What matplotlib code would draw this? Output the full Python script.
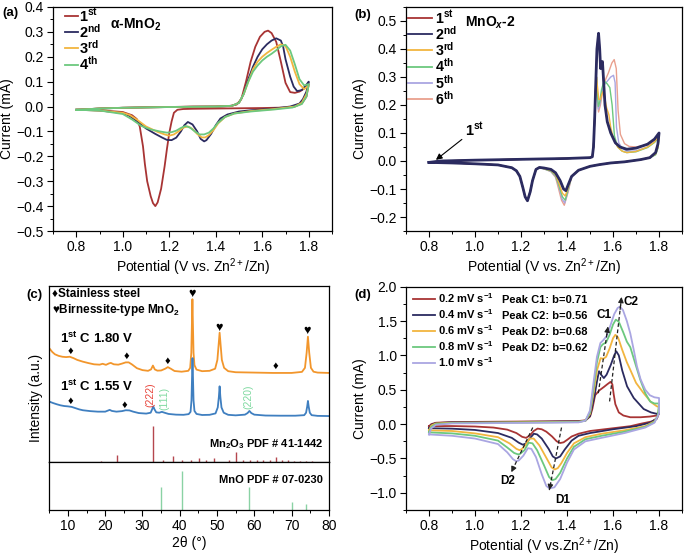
import numpy as np
import matplotlib
matplotlib.use("Agg")
import matplotlib.pyplot as plt
from matplotlib.ticker import MultipleLocator

plt.rcParams.update({
    "font.family": ["Liberation Sans", "DejaVu Sans"],
    "font.size": 10,
    "mathtext.fontset": "custom",
    "mathtext.rm": "Liberation Sans",
    "mathtext.it": "Liberation Sans:italic",
    "mathtext.bf": "Liberation Sans:bold",
    "mathtext.bfit": "Liberation Sans:italic:bold",
    "axes.linewidth": 0.9,
    "xtick.direction": "out",
    "ytick.direction": "out",
    "xtick.major.size": 4,
    "ytick.major.size": 4,
    "xtick.minor.size": 2.2,
    "ytick.minor.size": 2.2,
    "xtick.major.width": 0.8,
    "ytick.major.width": 0.8,
    "xtick.minor.width": 0.7,
    "ytick.minor.width": 0.7,
    "xtick.major.pad": 2.5,
    "ytick.major.pad": 2.5,
})

# ---------------------------------------------------------------- data (a)
a_labels = [r"1$^{\mathbf{st}}$", r"2$^{\mathbf{nd}}$", r"3$^{\mathbf{rd}}$", r"4$^{\mathbf{th}}$"]
a_cycle1 = [(0.80, -0.013), (0.90, -0.008), (1.00, -0.005), (1.10, -0.003), (1.20, -0.002),
            (1.30, 0.000), (1.40, 0.000), (1.46, 0.002), (1.49, 0.008), (1.51, 0.030),
            (1.53, 0.100), (1.55, 0.180), (1.57, 0.240), (1.59, 0.280), (1.61, 0.300),
            (1.625, 0.305), (1.64, 0.295), (1.66, 0.260), (1.68, 0.180), (1.70, 0.095),
            (1.72, 0.058), (1.74, 0.055), (1.76, 0.060), (1.78, 0.072), (1.80, 0.090),
            (1.79, 0.040), (1.77, 0.012), (1.74, 0.000), (1.70, -0.004), (1.60, -0.006),
            (1.50, -0.007), (1.40, -0.008), (1.30, -0.009), (1.26, -0.010), (1.235, -0.013),
            (1.22, -0.025), (1.21, -0.060), (1.20, -0.106), (1.19, -0.170), (1.18, -0.240),
            (1.165, -0.330), (1.15, -0.385), (1.14, -0.400), (1.13, -0.388), (1.12, -0.360),
            (1.105, -0.300), (1.095, -0.230), (1.087, -0.160), (1.073, -0.080), (1.06, -0.050),
            (1.04, -0.035), (1.00, -0.022), (0.90, -0.015), (0.80, -0.013)]
a_cycle2 = [(0.80, -0.013), (0.90, -0.008), (1.00, -0.005), (1.20, -0.002), (1.40, 0.000),
            (1.47, 0.003), (1.50, 0.015), (1.52, 0.050), (1.54, 0.110), (1.56, 0.160),
            (1.58, 0.200), (1.60, 0.230), (1.62, 0.250), (1.64, 0.265), (1.66, 0.274),
            (1.68, 0.265), (1.69, 0.240), (1.70, 0.190), (1.72, 0.120), (1.735, 0.080),
            (1.75, 0.062), (1.77, 0.066), (1.79, 0.088), (1.80, 0.100),
            (1.79, 0.060), (1.775, 0.030), (1.76, 0.012), (1.72, 0.000), (1.65, -0.008),
            (1.55, -0.015), (1.50, -0.020), (1.45, -0.032), (1.42, -0.048), (1.40, -0.075),
            (1.38, -0.110), (1.36, -0.135), (1.35, -0.140), (1.335, -0.130), (1.32, -0.100),
            (1.30, -0.072), (1.28, -0.062), (1.265, -0.075), (1.25, -0.100), (1.23, -0.125),
            (1.21, -0.135), (1.19, -0.134), (1.17, -0.125), (1.14, -0.110), (1.10, -0.088),
            (1.06, -0.058), (1.03, -0.038), (1.00, -0.026), (0.90, -0.016), (0.80, -0.013)]
a_cycle3 = [(0.80, -0.013), (0.90, -0.008), (1.00, -0.005), (1.20, -0.002), (1.40, 0.000),
            (1.47, 0.003), (1.50, 0.015), (1.52, 0.050), (1.54, 0.100), (1.56, 0.150),
            (1.58, 0.180), (1.60, 0.200), (1.62, 0.215), (1.64, 0.228), (1.66, 0.240),
            (1.68, 0.250), (1.70, 0.243), (1.72, 0.200), (1.74, 0.140), (1.76, 0.090),
            (1.78, 0.070), (1.80, 0.085),
            (1.79, 0.050), (1.77, 0.015), (1.74, 0.000), (1.65, -0.010), (1.55, -0.018),
            (1.48, -0.028), (1.44, -0.042), (1.41, -0.068), (1.39, -0.095), (1.37, -0.115),
            (1.355, -0.124), (1.34, -0.124), (1.32, -0.110), (1.30, -0.090), (1.28, -0.080),
            (1.26, -0.085), (1.24, -0.100), (1.22, -0.112), (1.20, -0.117), (1.18, -0.112),
            (1.15, -0.102), (1.10, -0.080), (1.06, -0.052), (1.03, -0.034), (1.00, -0.025),
            (0.90, -0.016), (0.80, -0.013)]
a_cycle4 = [(0.80, -0.013), (0.90, -0.008), (1.00, -0.005), (1.20, -0.002), (1.40, 0.000),
            (1.47, 0.003), (1.50, 0.015), (1.52, 0.050), (1.54, 0.100), (1.56, 0.140),
            (1.58, 0.165), (1.60, 0.185), (1.62, 0.200), (1.64, 0.212), (1.66, 0.226),
            (1.68, 0.242), (1.70, 0.248), (1.72, 0.225), (1.74, 0.170), (1.76, 0.110),
            (1.78, 0.085), (1.80, 0.090),
            (1.79, 0.040), (1.77, 0.010), (1.73, -0.004), (1.65, -0.012), (1.55, -0.020),
            (1.48, -0.028), (1.44, -0.042), (1.41, -0.065), (1.39, -0.088), (1.37, -0.105),
            (1.35, -0.112), (1.33, -0.112), (1.31, -0.100), (1.29, -0.085), (1.27, -0.078),
            (1.25, -0.086), (1.23, -0.097), (1.21, -0.103), (1.19, -0.105), (1.16, -0.100),
            (1.12, -0.092), (1.08, -0.078), (1.04, -0.052), (1.00, -0.030), (0.90, -0.016),
            (0.80, -0.013)]

# ---------------------------------------------------------------- data (b)
b_labels = [r"1$^{\mathbf{st}}$", r"2$^{\mathbf{nd}}$", r"3$^{\mathbf{rd}}$",
            r"4$^{\mathbf{th}}$", r"5$^{\mathbf{th}}$", r"6$^{\mathbf{th}}$"]
b_base = [(0.80, -0.005), (0.85, 0.000), (1.00, 0.003), (1.20, 0.006), (1.40, 0.009),
          (1.50, 0.012), (1.51, 0.015)]
b_return = [(1.76, 0.012), (1.72, 0.005), (1.65, -0.003), (1.59, -0.007), (1.54, -0.013),
            (1.50, -0.019), (1.45, -0.033), (1.42, -0.055)]
b_tail = [(1.28, -0.023), (1.265, -0.030), (1.25, -0.070), (1.24, -0.110), (1.228, -0.142),
          (1.218, -0.128), (1.208, -0.095), (1.195, -0.055), (1.18, -0.035), (1.16, -0.024),
          (1.10, -0.014), (1.00, -0.010), (0.90, -0.007), (0.80, -0.005)]
b_cycle2_up = [(1.515, 0.050), (1.52, 0.150), (1.525, 0.280), (1.53, 0.400), (1.537, 0.456),
               (1.542, 0.400), (1.546, 0.330), (1.55, 0.350), (1.554, 0.355), (1.558, 0.300),
               (1.565, 0.200), (1.575, 0.140), (1.59, 0.100), (1.61, 0.065), (1.63, 0.050),
               (1.66, 0.042), (1.70, 0.046), (1.75, 0.060), (1.78, 0.078), (1.80, 0.100),
               (1.795, 0.060), (1.785, 0.030)]
b_cycle2_dn = [(1.405, -0.085), (1.395, -0.106), (1.385, -0.100), (1.37, -0.070),
               (1.35, -0.042), (1.33, -0.030), (1.30, -0.025)]
b_cycle3_up = [(1.515, 0.050), (1.52, 0.150), (1.524, 0.250), (1.528, 0.300), (1.533, 0.260),
               (1.538, 0.220), (1.545, 0.220), (1.552, 0.240), (1.557, 0.248), (1.563, 0.230),
               (1.572, 0.190), (1.582, 0.165), (1.59, 0.120), (1.60, 0.085), (1.62, 0.050),
               (1.64, 0.035), (1.66, 0.030), (1.70, 0.034), (1.75, 0.050), (1.78, 0.068),
               (1.80, 0.090), (1.795, 0.050), (1.785, 0.025)]
b_cycle3_dn = [(1.405, -0.095), (1.392, -0.125), (1.38, -0.115), (1.365, -0.080),
               (1.35, -0.048), (1.33, -0.034), (1.30, -0.027)]
b_cycle4_up = [(1.515, 0.050), (1.52, 0.150), (1.524, 0.250), (1.528, 0.300), (1.532, 0.240),
               (1.536, 0.195), (1.542, 0.210), (1.55, 0.255), (1.558, 0.278), (1.565, 0.283),
               (1.575, 0.275), (1.586, 0.262), (1.596, 0.200), (1.606, 0.090), (1.62, 0.050),
               (1.64, 0.035), (1.66, 0.030), (1.70, 0.033), (1.75, 0.048), (1.78, 0.066),
               (1.80, 0.085), (1.795, 0.045), (1.785, 0.022)]
b_cycle4_dn = [(1.405, -0.100), (1.392, -0.140), (1.38, -0.128), (1.365, -0.088),
               (1.35, -0.052), (1.33, -0.036), (1.30, -0.028)]
b_cycle5_up = [(1.515, 0.050), (1.52, 0.150), (1.524, 0.250), (1.528, 0.300), (1.532, 0.230),
               (1.536, 0.185), (1.542, 0.200), (1.55, 0.240), (1.56, 0.270), (1.575, 0.285),
               (1.59, 0.300), (1.602, 0.306), (1.609, 0.280), (1.615, 0.120), (1.625, 0.065),
               (1.64, 0.045), (1.66, 0.035), (1.70, 0.036), (1.75, 0.050), (1.78, 0.068),
               (1.80, 0.088), (1.795, 0.048), (1.785, 0.024)]
b_cycle5_dn = [(1.405, -0.105), (1.39, -0.150), (1.378, -0.135), (1.365, -0.092),
               (1.35, -0.055), (1.33, -0.037), (1.30, -0.028)]
b_cycle6_up = [(1.515, 0.050), (1.52, 0.150), (1.524, 0.250), (1.528, 0.300), (1.532, 0.220),
               (1.537, 0.175), (1.545, 0.200), (1.555, 0.250), (1.567, 0.290), (1.58, 0.315),
               (1.595, 0.350), (1.605, 0.362), (1.614, 0.330), (1.622, 0.180), (1.632, 0.095),
               (1.65, 0.062), (1.67, 0.052), (1.70, 0.050), (1.75, 0.058), (1.78, 0.074),
               (1.80, 0.095), (1.795, 0.052), (1.785, 0.026)]
b_cycle6_dn = [(1.405, -0.110), (1.388, -0.158), (1.376, -0.140), (1.362, -0.095),
               (1.35, -0.058), (1.33, -0.038), (1.30, -0.028)]
b_arrow_tip = (0.83, 0.004)
b_arrow_text = (0.955, 0.112)

# ---------------------------------------------------------------- data (c)
xrd_blue = [(5, 34.3), (6, 33.5), (7, 32.8), (8, 32.2), (9, 31.8), (10, 31.6), (11, 31.3),
            (12, 30.6), (13, 29.9), (14, 29.4), (16, 28.9), (18, 28.6), (20, 28.6),
            (20.6, 29.1), (21.2, 29.6), (21.8, 29.0), (23, 28.6), (24.5, 28.9), (25.5, 29.4),
            (26.5, 29.3), (27.5, 28.6), (29, 27.8), (31, 27.5), (32.2, 28.0), (32.6, 30.0),
            (32.9, 31.6), (33.2, 30.0), (33.7, 28.2), (34.5, 28.0), (35.2, 28.5), (35.9, 28.0),
            (37, 27.3), (39, 26.9), (41, 26.8), (42.4, 27.2), (42.9, 28.5), (43.15, 35),
            (43.3, 48), (43.42, 59), (43.55, 48), (43.7, 35), (43.95, 29), (44.5, 27.3),
            (46, 26.7), (48, 26.8), (49.6, 27.6), (50.2, 31), (50.5, 37), (50.7, 43),
            (50.9, 37), (51.2, 31), (51.8, 28), (53, 26.8), (55, 26.5), (57.5, 26.9),
            (58.2, 27.8), (58.7, 29.0), (59.2, 27.8), (60, 26.9), (63, 26.4), (67, 26.3),
            (71, 26.3), (73.4, 26.6), (73.9, 28), (74.2, 31.5), (74.4, 34.7), (74.6, 31.5),
            (74.9, 28), (75.4, 26.6), (77, 26.2), (80, 26.1)]
xrd_orange = [(5, 64.6), (5.8, 62.5), (6.5, 61.2), (7.5, 60.3), (8.5, 59.8), (9.5, 59.6),
              (10.5, 59.8), (11.5, 59.0), (12.5, 58.0), (14, 57.0), (15.5, 56.2), (17, 55.5),
              (18.5, 55.3), (19.3, 55.8), (20.2, 55.2), (21.0, 56.0), (21.5, 56.3),
              (22.3, 55.5), (23.5, 55.3), (24.5, 55.9), (25.5, 56.6), (26.3, 56.6),
              (27.2, 55.4), (28.5, 53.3), (30, 52.2), (31.5, 51.8), (32.3, 52.6), (32.8, 54.8),
              (33.3, 52.6), (34, 51.9), (35, 52.0), (36.1, 53.0), (36.8, 53.9), (37.6, 53.0),
              (38.6, 51.7), (40.5, 51.3), (42.3, 51.8), (42.8, 53.5), (43.1, 62), (43.28, 80),
              (43.4, 92.5), (43.52, 80), (43.7, 62), (43.95, 55), (44.5, 52.5), (46, 51.6),
              (48, 51.8), (49.5, 53), (50.1, 58), (50.45, 67), (50.7, 73.5), (50.95, 67),
              (51.3, 58), (51.9, 53.5), (53, 51.6), (55, 51.0), (60, 50.8), (65, 50.6),
              (70, 50.6), (72.8, 51.2), (73.6, 53.5), (74.05, 62), (74.4, 71.2), (74.75, 62),
              (75.2, 53.5), (75.9, 51.3), (77, 50.8), (80, 50.6)]
mn2o3_pos = [18.8, 23.1, 32.9, 35.6, 38.2, 40.7, 43.0, 45.2, 47.1, 49.3, 53.2, 55.2, 57.1,
             58.9, 60.7, 62.4, 64.1, 65.8, 67.5, 69.0, 70.6, 72.2, 73.8, 75.4]
mn2o3_int = [0.8, 3.8, 20.5, 1.1, 3.3, 1.1, 1.1, 2.1, 1.1, 2.3, 1.1, 5.9, 1.1,
             1.0, 1.0, 1.1, 1.2, 2.8, 1.0, 1.0, 0.6, 0.6, 0.6, 0.4]
mno_pos = [34.9, 40.5, 58.7, 70.2, 73.8]
mno_int = [60, 100, 59, 20, 15]
steel_orange = [(10.8, 63.0), (25.8, 60.2), (36.8, 57.4), (65.8, 54.5)]
steel_blue = [(10.8, 34.6), (25.2, 32.7)]
birnessite = [(43.2, 95.5), (50.5, 76.3), (74.2, 74.6)]
hkl_labels = ["(222)", "(111)", "(220)"]
hkl_pos = [(32.0, 38.0), (35.8, 36.0), (58.4, 37.0)]

# ---------------------------------------------------------------- data (d)
d_rates = ["0.2", "0.4", "0.6", "0.8", "1.0"]
d_peaks = ["C1", "C2", "D2", "D2"]
d_bvals = [0.71, 0.56, 0.68, 0.62]
d_rate02 = [(0.80, -0.030), (0.81, 0.000), (0.83, 0.020), (0.90, 0.030), (1.10, 0.035),
            (1.30, 0.040), (1.45, 0.045), (1.48, 0.055), (1.50, 0.110), (1.51, 0.220),
            (1.522, 0.420), (1.54, 0.490), (1.56, 0.540), (1.575, 0.580), (1.589, 0.615),
            (1.597, 0.580), (1.603, 0.430), (1.61, 0.290), (1.625, 0.170), (1.645, 0.125),
            (1.675, 0.100), (1.72, 0.100), (1.76, 0.110), (1.79, 0.125), (1.80, 0.160),
            (1.79, 0.080), (1.77, 0.040), (1.72, 0.005), (1.675, -0.030), (1.60, -0.060),
            (1.50, -0.100), (1.45, -0.140), (1.42, -0.180), (1.40, -0.230), (1.385, -0.265),
            (1.37, -0.275), (1.355, -0.250), (1.335, -0.180), (1.31, -0.110), (1.29, -0.075),
            (1.272, -0.065), (1.255, -0.100), (1.24, -0.160), (1.222, -0.200), (1.205, -0.185),
            (1.18, -0.130), (1.14, -0.080), (1.08, -0.050), (1.00, -0.035), (0.90, -0.028),
            (0.80, -0.030)]
d_rate04 = [(0.80, -0.060), (0.81, -0.010), (0.83, 0.015), (0.90, 0.025), (1.10, 0.030),
            (1.30, 0.035), (1.45, 0.040), (1.48, 0.050), (1.50, 0.120), (1.52, 0.420),
            (1.53, 0.620), (1.539, 0.770), (1.548, 0.720), (1.56, 0.670), (1.572, 0.720),
            (1.59, 0.860), (1.605, 1.000), (1.614, 1.060), (1.625, 1.000), (1.64, 0.780),
            (1.661, 0.550), (1.69, 0.380), (1.733, 0.220), (1.765, 0.170), (1.79, 0.150),
            (1.80, 0.170), (1.79, 0.080), (1.76, 0.020), (1.70, -0.030), (1.60, -0.075),
            (1.50, -0.130), (1.45, -0.170), (1.42, -0.240), (1.39, -0.370), (1.37, -0.470),
            (1.352, -0.500), (1.338, -0.470), (1.32, -0.360), (1.29, -0.210), (1.27, -0.150),
            (1.256, -0.140), (1.24, -0.200), (1.222, -0.280), (1.208, -0.300), (1.19, -0.270),
            (1.16, -0.200), (1.10, -0.130), (1.00, -0.085), (0.90, -0.066), (0.80, -0.060)]
d_rate06 = [(0.80, -0.090), (0.81, -0.020), (0.83, 0.010), (0.90, 0.020), (1.10, 0.025),
            (1.30, 0.030), (1.45, 0.035), (1.48, 0.050), (1.50, 0.150), (1.515, 0.450),
            (1.53, 0.780), (1.546, 0.960), (1.558, 0.950), (1.57, 0.980), (1.585, 1.100),
            (1.60, 1.250), (1.61, 1.300), (1.622, 1.260), (1.64, 1.080), (1.66, 0.900),
            (1.675, 0.790), (1.70, 0.600), (1.733, 0.450), (1.765, 0.320), (1.79, 0.260),
            (1.80, 0.250), (1.795, 0.120), (1.78, 0.040), (1.74, -0.030), (1.65, -0.090),
            (1.55, -0.140), (1.48, -0.190), (1.43, -0.280), (1.40, -0.420), (1.375, -0.570),
            (1.36, -0.640), (1.347, -0.660), (1.333, -0.630), (1.31, -0.490), (1.28, -0.310),
            (1.255, -0.210), (1.237, -0.210), (1.22, -0.300), (1.205, -0.360), (1.194, -0.380),
            (1.18, -0.360), (1.15, -0.280), (1.10, -0.190), (1.00, -0.135), (0.90, -0.100),
            (0.80, -0.090)]
d_rate08 = [(0.80, -0.120), (0.81, -0.040), (0.83, 0.000), (0.90, 0.015), (1.10, 0.020),
            (1.30, 0.025), (1.45, 0.030), (1.48, 0.050), (1.50, 0.170), (1.515, 0.520),
            (1.53, 0.900), (1.545, 1.120), (1.555, 1.160), (1.57, 1.190), (1.585, 1.300),
            (1.60, 1.450), (1.612, 1.520), (1.625, 1.490), (1.645, 1.330), (1.66, 1.200),
            (1.675, 1.120), (1.695, 0.900), (1.718, 0.650), (1.74, 0.450), (1.761, 0.330),
            (1.78, 0.300), (1.80, 0.300), (1.795, 0.130), (1.78, 0.030), (1.74, -0.040),
            (1.65, -0.110), (1.55, -0.170), (1.48, -0.220), (1.43, -0.330), (1.40, -0.500),
            (1.37, -0.710), (1.35, -0.800), (1.337, -0.815), (1.322, -0.770), (1.30, -0.600),
            (1.27, -0.380), (1.25, -0.280), (1.233, -0.270), (1.215, -0.380), (1.195, -0.435),
            (1.187, -0.440), (1.17, -0.420), (1.14, -0.340), (1.10, -0.240), (1.00, -0.170),
            (0.90, -0.135), (0.80, -0.120)]
d_rate10 = [(0.80, -0.150), (0.81, -0.060), (0.83, -0.010), (0.90, 0.010), (1.10, 0.015),
            (1.30, 0.020), (1.45, 0.025), (1.48, 0.050), (1.50, 0.200), (1.515, 0.600),
            (1.53, 0.980), (1.545, 1.180), (1.557, 1.220), (1.572, 1.280), (1.59, 1.450),
            (1.605, 1.600), (1.62, 1.690), (1.63, 1.710), (1.643, 1.660), (1.66, 1.500),
            (1.675, 1.320), (1.69, 1.080), (1.704, 0.840), (1.72, 0.650), (1.74, 0.500),
            (1.76, 0.420), (1.78, 0.390), (1.80, 0.380), (1.80, 0.160), (1.795, 0.120),
            (1.78, 0.020), (1.74, -0.050), (1.65, -0.130), (1.55, -0.200), (1.48, -0.250),
            (1.43, -0.370), (1.40, -0.560), (1.37, -0.800), (1.345, -0.920), (1.323, -0.935),
            (1.31, -0.900), (1.29, -0.730), (1.265, -0.480), (1.245, -0.360), (1.23, -0.350),
            (1.21, -0.460), (1.19, -0.530), (1.179, -0.540), (1.165, -0.510), (1.14, -0.410),
            (1.10, -0.290), (1.00, -0.210), (0.90, -0.170), (0.80, -0.150)]
d_guides = {"C1": [(1.536, 0.45), (1.578, 1.42)], "C2": [(1.585, 0.33), (1.637, 1.85)],
            "D1": [(1.376, -0.05), (1.323, -0.96)], "D2": [(1.251, -0.05), (1.158, -0.70)]}
d_guide_text = {"C1": (1.563, 1.59), "C2": (1.646, 1.78), "D1": (1.382, -1.10), "D2": (1.14, -0.83)}

RED, NAVY, ORANGE, GREEN = "#a83434", "#2b2b60", "#f2b53f", "#6cc87e"
PURPLE, SALMON = "#aaa6e2", "#e9a08e"
X_ORANGE, X_BLUE = "#f2962c", "#3f7fc0"
STICK_RED, STICK_GREEN = "#b5474e", "#8ad2a4"


def xy(pts):
    v, i = zip(*pts)
    return np.array(v), np.array(i)


def cv_axes(ax, ylim, ymaj, ymin):
    ax.set_xlim(0.7, 1.9)
    ax.set_ylim(*ylim)
    ax.xaxis.set_major_locator(MultipleLocator(0.2))
    ax.xaxis.set_minor_locator(MultipleLocator(0.1))
    ax.yaxis.set_major_locator(MultipleLocator(ymaj))
    ax.yaxis.set_minor_locator(MultipleLocator(ymin))
    ax.set_ylabel("Current (mA)", labelpad=2)


def key(ax, rows, x0, x1, xt, ytop, dy, drop, fs, lw=1.3):
    # hand-placed legend: short line + bold label, rows dy apart (axes fraction)
    for k, (lab, col) in enumerate(rows):
        y = ytop - k * dy
        ax.plot([x0, x1], [y, y], transform=ax.transAxes, color=col, lw=lw, clip_on=False)
        ax.text(xt, y - drop, lab, transform=ax.transAxes, fontsize=fs, fontweight="bold",
                va="baseline", ha="left")


fig = plt.figure(figsize=(6.85, 5.56), dpi=100)

# ---------------------------------------------------------------- (a)
ax = fig.add_axes([0.0774, 0.5845, 0.4073, 0.403])
a_cols = [RED, NAVY, ORANGE, GREEN]
for pts, col in zip([a_cycle1, a_cycle2, a_cycle3, a_cycle4], a_cols):
    v, i = xy(pts)
    ax.plot(v, i, color=col, lw=1.3)
cv_axes(ax, (-0.5, 0.4), 0.1, 0.05)
ax.set_xlabel("Potential (V vs. Zn$^{2+}$/Zn)", labelpad=2)
key(ax, list(zip(a_labels, a_cols)), 0.042, 0.089, 0.093, 0.960, 0.0725, 0.024, 10.5)
ax.text(0.943, 0.33, r"α-MnO$_\mathbf{2}$", fontsize=10, fontweight="bold", va="center")

# ---------------------------------------------------------------- (b)
ax = fig.add_axes([0.5927, 0.5845, 0.403, 0.403])
b_cols = [RED, NAVY, ORANGE, GREEN, PURPLE, SALMON]
b_curves = [
    (b_base + b_cycle2_up + b_return + b_cycle2_dn + b_tail, 1.0, 3),
    (b_base + b_cycle2_up + b_return + b_cycle2_dn + b_tail, 2.0, 4),
    (b_base + b_cycle3_up + b_return + b_cycle3_dn + b_tail, 1.0, 2.5),
    (b_base + b_cycle4_up + b_return + b_cycle4_dn + b_tail, 1.0, 2.4),
    (b_base + b_cycle5_up + b_return + b_cycle5_dn + b_tail, 1.0, 2.3),
    (b_base + b_cycle6_up + b_return + b_cycle6_dn + b_tail, 1.0, 2.2),
]
for (pts, lw, z), col in zip(b_curves, b_cols):
    v, i = xy(pts)
    ax.plot(v, i, color=col, lw=lw, zorder=z)
cv_axes(ax, (-0.25, 0.55), 0.1, 0.05)
ax.set_xlabel("Potential (V vs. Zn$^{2+}$/Zn)", labelpad=2)
key(ax, list(zip(b_labels, b_cols)), 0.007, 0.094, 0.104, 0.952, 0.0728, 0.024, 10.3)
ax.text(0.957, 0.494, r"MnO$_\mathbfit{x}$-2", fontsize=10, fontweight="bold", va="center")
ax.annotate(r"1$^{\mathbf{st}}$", xy=b_arrow_tip, xytext=b_arrow_text, fontsize=10.5,
            fontweight="bold", va="center",
            arrowprops=dict(arrowstyle="-|>", color="black", lw=0.8, mutation_scale=9,
                            shrinkA=0, shrinkB=0))

# ---------------------------------------------------------------- (c)
axc = fig.add_axes([0.072, 0.1691, 0.408, 0.3165])
axm = fig.add_axes([0.072, 0.0827, 0.408, 0.0864], sharex=axc)
v, i = xy(xrd_orange)
axc.plot(v, i, color=X_ORANGE, lw=1.3)
v, i = xy(xrd_blue)
axc.plot(v, i, color=X_BLUE, lw=1.3)
axc.vlines(mn2o3_pos, 0, mn2o3_int, color=STICK_RED, lw=1.0)
axm.vlines(mno_pos, 0, mno_int, color=STICK_GREEN, lw=1.0)
axc.set_xlim(5, 80)
axc.set_ylim(0, 100)
axm.set_ylim(0, 123)
for a in (axc, axm):
    a.set_yticks([])
axc.tick_params(axis="x", which="both", bottom=False, labelbottom=False)
axm.xaxis.set_major_locator(MultipleLocator(10))
axm.xaxis.set_minor_locator(MultipleLocator(5))
axm.set_xlabel("2θ (°)", labelpad=2)
fig.text(0.053, 0.284, "Intensity (a.u.)", rotation=90, ha="center", va="center", fontsize=10)
for x0, y0 in steel_orange + steel_blue:
    axc.text(x0, y0, "♦", ha="center", va="center", fontsize=8)
for x0, y0 in birnessite:
    axc.text(x0, y0, "♥", ha="center", va="center", fontsize=9)
axc.text(5.6, 95.5, "♦Stainless steel", fontsize=8.5, fontweight="bold", va="center")
axc.text(5.6, 86.4, r"♥Birnessite-type MnO$_\mathbf{2}$", fontsize=8.5, fontweight="bold",
         va="center")
axc.text(8.0, 70.5, r"1$^{\mathbf{st}}$ C 1.80 V", fontsize=9.5, fontweight="bold", va="center")
axc.text(8.0, 42.8, r"1$^{\mathbf{st}}$ C 1.55 V", fontsize=9.5, fontweight="bold", va="center")
for lab, (x0, y0), col in zip(hkl_labels, hkl_pos, ["#e8453c", "#7fd9a0", "#7fd9a0"]):
    axc.text(x0, y0, lab, rotation=90, color=col, fontsize=7.5, ha="center", va="center")
axc.text(78.5, 10.2, r"Mn$_\mathbf{2}$O$_\mathbf{3}$ PDF # 41-1442", fontsize=8,
         fontweight="bold", ha="right", va="center")
axm.text(78.5, 77, "MnO PDF # 07-0230", fontsize=8, fontweight="bold", ha="right", va="center")

# ---------------------------------------------------------------- (d)
ax = fig.add_axes([0.5927, 0.0827, 0.403, 0.4017])
d_cols = [RED, NAVY, ORANGE, GREEN, PURPLE]
for pts, col in zip([d_rate02, d_rate04, d_rate06, d_rate08, d_rate10], d_cols):
    v, i = xy(pts)
    ax.plot(v, i, color=col, lw=1.3)
for name, (p0, p1) in d_guides.items():
    ax.plot([p0[0], p1[0]], [p0[1], p1[1]], color="#222222", lw=0.9, ls=(0, (3, 2)), zorder=5)
    ax.annotate("", xy=p1, xytext=(p1[0] - 0.12 * (p1[0] - p0[0]), p1[1] - 0.12 * (p1[1] - p0[1])),
                arrowprops=dict(arrowstyle="-|>", color="#222222", lw=0.8, mutation_scale=8,
                                shrinkA=0, shrinkB=0), zorder=6)
    tx, ty = d_guide_text[name]
    ax.text(tx, ty, name, fontsize=8.5, fontweight="bold",
            ha="left" if name == "C2" else "center", va="center")
cv_axes(ax, (-1.25, 2.0), 0.5, 0.25)
ax.set_xlabel("Potential (V vs.Zn$^{2+}$/Zn)", labelpad=2)
rate_labels = [r + r" mV s$^{\mathbf{-1}}$" for r in d_rates]
key(ax, list(zip(rate_labels, d_cols)), 0.025, 0.105, 0.115, 0.945, 0.072, 0.018, 8)
for k, (pk, b) in enumerate(zip(d_peaks, d_bvals)):
    ax.text(0.346, 0.945 - k * 0.072 - 0.018, "Peak %s: b=%.2f" % (pk, b), transform=ax.transAxes,
            fontsize=8, fontweight="bold", va="baseline")

# ---------------------------------------------------------------- panel tags
for tag, x0, y0 in [("(a)", 0.004, 0.977), ("(b)", 0.517, 0.973),
                    ("(c)", 0.039, 0.469), ("(d)", 0.518, 0.469)]:
    fig.text(x0, y0, tag, fontsize=9.5, fontweight="bold", ha="left", va="center")

fig.savefig("out.png", dpi=100)
